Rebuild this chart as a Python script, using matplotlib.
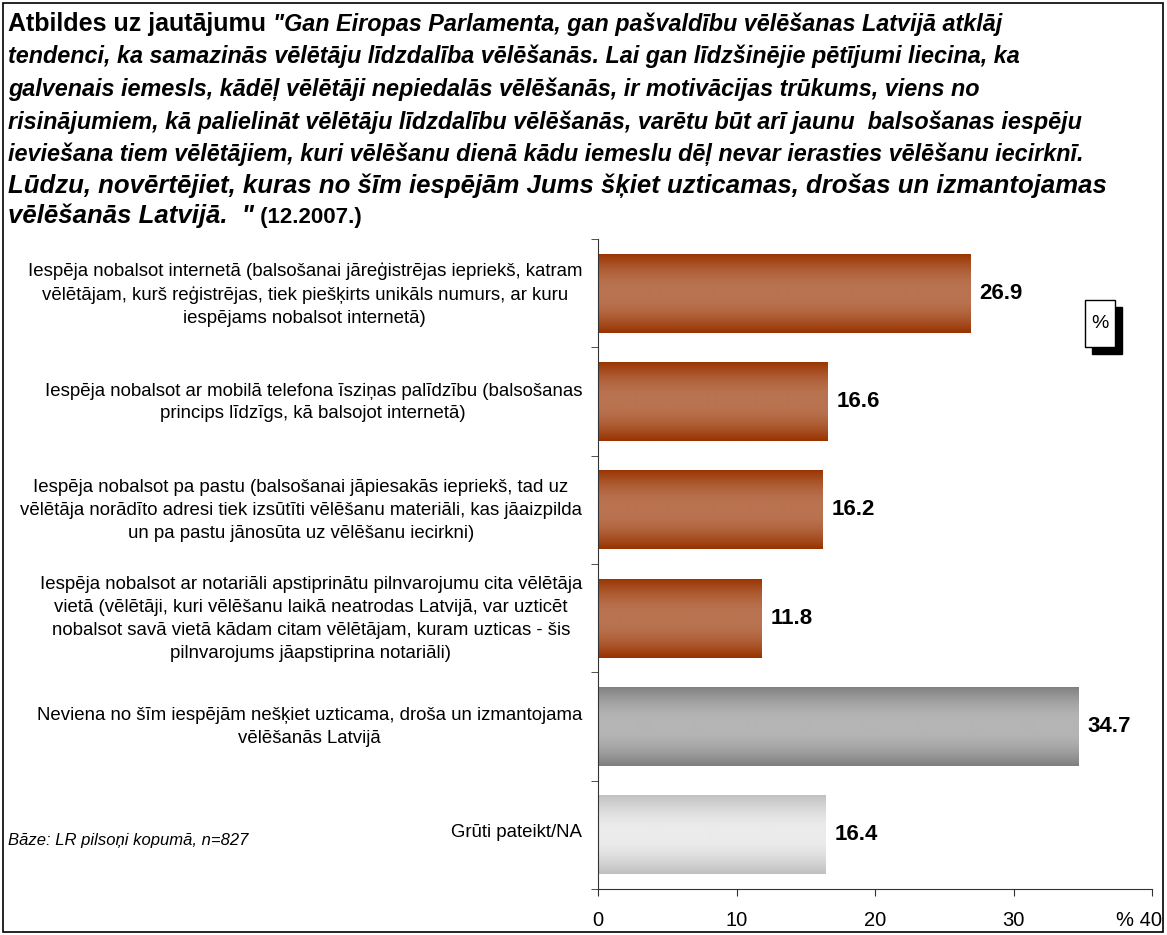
import numpy as np
import matplotlib.pyplot as plt
from matplotlib.patches import Rectangle
from matplotlib.transforms import ScaledTranslation

plt.rcParams['font.family'] = ['Liberation Sans', 'DejaVu Sans']

# data
labels = [
    'Iespēja nobalsot internetā (balsošanai jāreģistrējas iepriekš, katram\n'
    'vēlētājam, kurš reģistrējas, tiek piešķirts unikāls numurs, ar kuru\n'
    'iespējams nobalsot internetā)',
    'Iespēja nobalsot ar mobilā telefona īsziņas palīdzību (balsošanas\n'
    'princips līdzīgs, kā balsojot internetā)',
    'Iespēja nobalsot pa pastu (balsošanai jāpiesakās iepriekš, tad uz\n'
    'vēlētāja norādīto adresi tiek izsūtīti vēlēšanu materiāli, kas jāaizpilda\n'
    'un pa pastu jānosūta uz vēlēšanu iecirkni)',
    'Iespēja nobalsot ar notariāli apstiprinātu pilnvarojumu cita vēlētāja\n'
    'vietā (vēlētāji, kuri vēlēšanu laikā neatrodas Latvijā, var uzticēt\n'
    'nobalsot savā vietā kādam citam vēlētājam, kuram uzticas - šis\n'
    'pilnvarojums jāapstiprina notariāli)',
    'Neviena no šīm iespējām nešķiet uzticama, droša un izmantojama\n'
    'vēlēšanās Latvijā',
    'Grūti pateikt/NA',
]
values = [26.9, 16.6, 16.2, 11.8, 34.7, 16.4]
groups = ['option', 'option', 'option', 'option', 'none', 'dk']
xticks = [0, 10, 20, 30, 40]
xticklabels = ['0', '10', '20', '30', '% 40']

# edge colour, centre colour of the bar gradient
gradients = {
    'option': ('#993300', '#b97350'),
    'none': ('#7f7f7f', '#b5b5b5'),
    'dk': ('#bfbfbf', '#ebebeb'),
}

W, H = 1167, 935
fig = plt.figure(figsize=(W / 100, H / 100), dpi=100)

def fx(px):
    return px / W

def fy(py):
    return 1 - py / H

ax = fig.add_axes([fx(598), fy(889), (1152 - 598) / W, (889 - 239) / H])

ypos = np.arange(len(values))
bars = ax.barh(ypos, values, height=0.73, color='none', edgecolor='none')

def hex2rgb(c):
    c = c.lstrip('#')
    return np.array([int(c[i:i + 2], 16) for i in (0, 2, 4)]) / 255.0

# vertical gradient fill, clipped to each bar
for patch, g in zip(bars, groups):
    edge, mid = hex2rgb(gradients[g][0]), hex2rgb(gradients[g][1])
    t = np.abs(np.linspace(-1, 1, 80))
    s = np.clip((t - 0.15) / 0.85, 0, 1) ** 1.6
    grad = mid[None, :] * (1 - s[:, None]) + edge[None, :] * s[:, None]
    x0, y0 = patch.get_x(), patch.get_y()
    im = ax.imshow(grad[:, None, :], extent=[x0, x0 + patch.get_width(), y0 + patch.get_height(), y0],
                   aspect='auto', interpolation='bilinear', zorder=2)
    im.set_clip_path(patch)

for yi, v in zip(ypos, values):
    ax.text(v + 0.65, yi, f'{v:.1f}', va='center', ha='left', fontsize=16, fontweight='bold')

ax.set_xlim(0, 40)
ax.set_ylim(len(values) - 0.5, -0.5)

ax.set_yticks(ypos)
ax.set_yticklabels(labels, multialignment='center', fontsize=13.4, linespacing=1.45)
ax.set_yticks(np.arange(-0.5, len(values), 1), minor=True)
ax.tick_params(axis='y', which='major', length=0, pad=11.5)
ax.tick_params(axis='y', which='minor', length=5, direction='out', color='#333333')
for lbl in ax.get_yticklabels():
    lbl.set_transform(lbl.get_transform() + ScaledTranslation(0, 4 / 100, fig.dpi_scale_trans))

ax.set_xticks(xticks)
ax.set_xticklabels(xticklabels)
ax.tick_params(axis='x', length=5, direction='out', labelsize=14.5, pad=11, color='#333333')
last = ax.get_xticklabels()[-1]
last.set_ha('right')
last.set_transform(last.get_transform() + ScaledTranslation(10 / 100, 0, fig.dpi_scale_trans))

for side in ['top', 'right']:
    ax.spines[side].set_visible(False)
for side in ['left', 'bottom']:
    ax.spines[side].set_color('#333333')

# title, mixed bold / bold italic
title_rows = [
    [('Atbildes uz jautājumu ', 'normal', 18), ('"Gan Eiropas Parlamenta, gan pašvaldību vēlēšanas Latvijā atklāj', 'italic', 16.8)],
    [('tendenci, ka samazinās vēlētāju līdzdalība vēlēšanās. Lai gan līdzšinējie pētījumi liecina, ka', 'italic', 16.8)],
    [('galvenais iemesls, kādēļ vēlētāji nepiedalās vēlēšanās, ir motivācijas trūkums, viens no', 'italic', 16.8)],
    [('risinājumiem, kā palielināt vēlētāju līdzdalību vēlēšanās, varētu būt arī jaunu  balsošanas iespēju', 'italic', 16.8)],
    [('ieviešana tiem vēlētājiem, kuri vēlēšanu dienā kādu iemeslu dēļ nevar ierasties vēlēšanu iecirknī.', 'italic', 16.8)],
    [('Lūdzu, novērtējiet, kuras no šīm iespējām Jums šķiet uzticamas, drošas un izmantojamas', 'italic', 18.5)],
    [('vēlēšanās Latvijā.  "', 'italic', 18.5), (' (12.2007.)', 'normal', 16)],
]
row_base = [31, 63.5, 96, 128.5, 161, 193, 223]

renderer = fig.canvas.get_renderer()
for row, yb in zip(title_rows, row_base):
    xpx = 8
    for txt, style, size in row:
        t = fig.text(fx(xpx), fy(yb), txt, fontsize=size, fontweight='bold', style=style,
                     ha='left', va='baseline')
        xpx = t.get_window_extent(renderer).x1

# "%" box with shadow
fig.patches.append(Rectangle((fx(1092), fy(354)), 30 / W, 47 / H, transform=fig.transFigure,
                             facecolor='black', edgecolor='black', zorder=5))
fig.patches.append(Rectangle((fx(1085), fy(347)), 30 / W, 47 / H, transform=fig.transFigure,
                             facecolor='white', edgecolor='black', lw=1, zorder=6))
fig.text(fx(1100), fy(323), '%', ha='center', va='center', fontsize=14, zorder=7)

fig.text(fx(8), fy(840), 'Bāze: LR pilsoņi kopumā, n=827', style='italic', fontsize=12,
         ha='left', va='center')

# outer frame
fig.patches.append(Rectangle((fx(3), fy(932)), 1160 / W, 929 / H, transform=fig.transFigure,
                             fill=False, edgecolor='black', lw=1.2))

fig.savefig('out.png', dpi=100)
